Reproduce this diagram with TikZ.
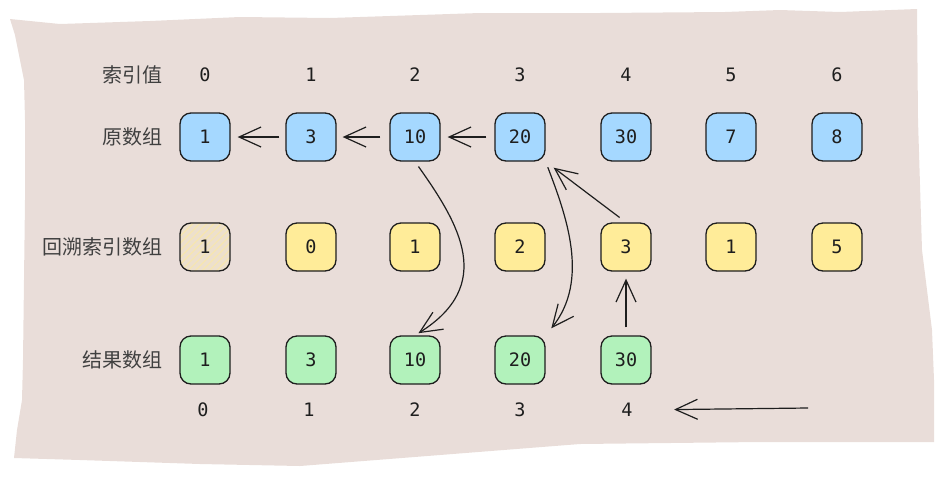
\documentclass[tikz,border=0pt]{standalone}
\usepackage{fontspec}
\setmonofont{DejaVu Sans Mono}
\newfontfamily\cjk{Noto Sans CJK SC}
\usetikzlibrary{arrows.meta,patterns.meta}
\definecolor{paperBg}{RGB}{233, 221, 217}
\definecolor{inkDark}{RGB}{30, 30, 30}
\definecolor{cellBlue}{RGB}{165, 216, 255}
\definecolor{cellYellow}{RGB}{255, 236, 153}
\definecolor{cellGreen}{RGB}{178, 242, 187}

\begin{document}
\begin{tikzpicture}[
  x=1pt, y=-1pt,
  cell/.style={
    draw=inkDark,
    line width=1.3pt,
    rounded corners=11pt,
    minimum width=50pt,
    minimum height=48pt,
    inner sep=0pt,
    text=inkDark,
    font=\ttfamily\fontsize{18.5}{20}\selectfont
  },
  idx/.style={
    text=inkDark,
    font=\ttfamily\fontsize{18.5}{20}\selectfont
  },
  rowname/.style={
    anchor=east,
    text=inkDark!85,
    font=\cjk\fontsize{20}{22}\selectfont
  },
  link/.style={
    draw=inkDark,
    line width=1.2pt,
    -{Straight Barb[length=22pt,width=20pt]}
  }
]
  \useasboundingbox (0,0) rectangle (944,480);

  % torn paper sheet
  \fill[paperBg] (10,19) -- (60,24) -- (150,21) -- (240,17) -- (330,18) -- (480,13)
    -- (600,13) -- (725,12) -- (780,10) -- (840,12) -- (917,9) -- (918,120)
    -- (922,250) -- (932,330) -- (934,380) -- (934,442) -- (760,442) -- (580,444)
    -- (440,455) -- (300,466) -- (200,464) -- (80,460) -- (14,458) -- (17,430)
    -- (22,400) -- (23,360) -- (25,200) -- (25,120) -- (24,80) -- (20,60)
    -- (15,35) -- cycle;

  % row names
  \node[rowname] (lblIdx) at (166,75) {索引值};
  \node[rowname] (lblOrig) at (166,137) {原数组};
  \node[rowname] (lblBack) at (166,247) {回溯索引数组};
  \node[rowname] (lblRes) at (166,360) {结果数组};

  % index values
  \node[idx] (idx0) at (205,75) {0};
  \node[idx] (idx1) at (311,75) {1};
  \node[idx] (idx2) at (415,75) {2};
  \node[idx] (idx3) at (520,75) {3};
  \node[idx] (idx4) at (626,75) {4};
  \node[idx] (idx5) at (731,75) {5};
  \node[idx] (idx6) at (837,75) {6};

  % original array
  \node[cell,fill=cellBlue] (orig0) at (205,137) {1};
  \node[cell,fill=cellBlue] (orig1) at (311,137) {3};
  \node[cell,fill=cellBlue] (orig2) at (415,137) {10};
  \node[cell,fill=cellBlue] (orig3) at (520,137) {20};
  \node[cell,fill=cellBlue] (orig4) at (626,137) {30};
  \node[cell,fill=cellBlue] (orig5) at (731,137) {7};
  \node[cell,fill=cellBlue] (orig6) at (837,137) {8};

  % backtrack indices
  \node[cell,fill=cellYellow!20!paperBg,
    preaction={fill=cellYellow!20!paperBg},
    pattern={Lines[angle=45,distance=5pt,line width=1pt]},
    pattern color=cellYellow!70!paperBg] (back0) at (205,247) {1};
  \node[cell,fill=cellYellow] (back1) at (311,247) {0};
  \node[cell,fill=cellYellow] (back2) at (415,247) {1};
  \node[cell,fill=cellYellow] (back3) at (520,247) {2};
  \node[cell,fill=cellYellow] (back4) at (626,247) {3};
  \node[cell,fill=cellYellow] (back5) at (731,247) {1};
  \node[cell,fill=cellYellow] (back6) at (837,247) {5};

  % result array
  \node[cell,fill=cellGreen] (res0) at (205,360) {1};
  \node[cell,fill=cellGreen] (res1) at (311,360) {3};
  \node[cell,fill=cellGreen] (res2) at (415,360) {10};
  \node[cell,fill=cellGreen] (res3) at (520,360) {20};
  \node[cell,fill=cellGreen] (res4) at (626,360) {30};

  \node[idx] (ridx0) at (203,410) {0};
  \node[idx] (ridx1) at (309,410) {1};
  \node[idx] (ridx2) at (415,410) {2};
  \node[idx] (ridx3) at (520,410) {3};
  \node[idx] (ridx4) at (627,410) {4};

  % backtracking arrows
  \draw[link,shorten <=6pt,shorten >=7pt] (orig1.west) -- (orig0.east);
  \draw[link,shorten <=9pt,shorten >=6pt] (orig2.west) -- (orig1.east);
  \draw[link,shorten <=8pt,shorten >=7pt] (orig3.west) -- (orig2.east);
  \draw[link,shorten <=6pt,shorten >=4pt] (orig2.south)
    .. controls (460,225) and (495,285) .. (res2.north);
  \draw[link,shorten <=6pt,shorten >=9pt] (orig3.south east)
    .. controls (566,215) and (590,280) .. (res3.north east);
  \draw[link,shorten <=8pt,shorten >=10pt] (back4.north) -- (orig3.south east);
  \draw[link,shorten <=8pt,shorten >=7pt] (res4.north) -- (back4.south);
  \draw[link,shorten >=38pt] (808,408) coordinate (scanStart) -- (ridx4.east);
\end{tikzpicture}
\end{document}
